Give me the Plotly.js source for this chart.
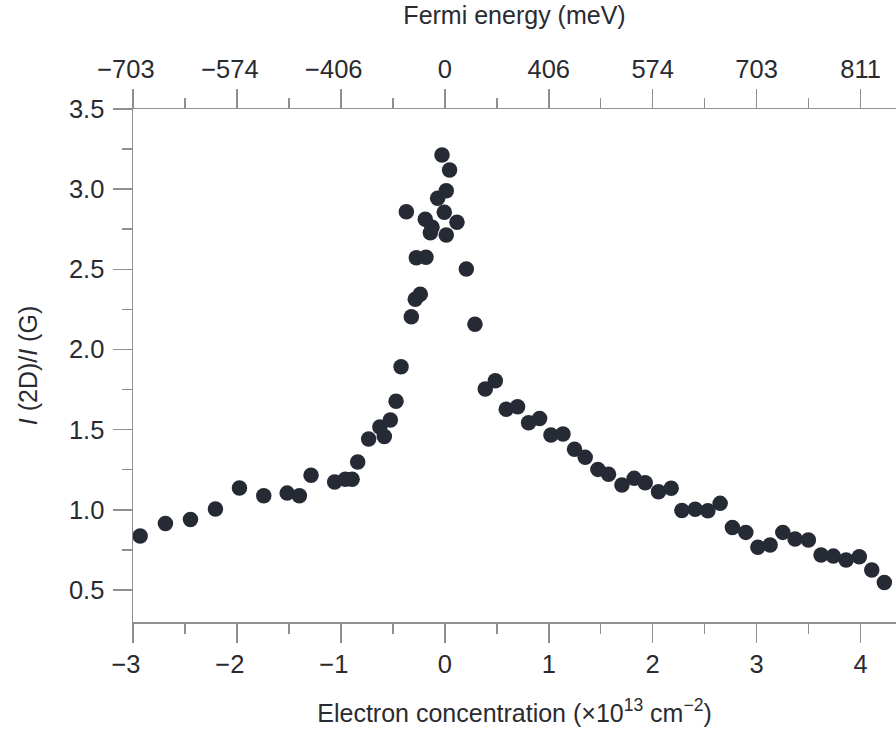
<!DOCTYPE html>
<html>
<head>
<meta charset="utf-8">
<script src="https://cdn.plot.ly/plotly-3.0.1.min.js"></script>
<style>html,body{margin:0;padding:0;background:#fff;}#chart{width:896px;height:735px;}</style>
</head>
<body>
<div id="chart"></div>
<script>
// Electron concentration (x10^13 cm^-2)
const concentration = [
  -2.931, -2.688, -2.447, -2.207, -1.976, -1.742, -1.517, -1.399, -1.287, -1.060,
  -0.957, -0.892, -0.838, -0.733, -0.625, -0.582, -0.524, -0.469, -0.421, -0.322,
  -0.284, -0.236, -0.274, -0.181, -0.370, -0.188, -0.123, -0.139, -0.069, -0.027,
  -0.005, 0.014, 0.014, 0.046, 0.117, 0.207, 0.290, 0.389, 0.486, 0.591,
  0.700, 0.806, 0.912, 1.021, 1.137, 1.248, 1.351, 1.473, 1.575, 1.704,
  1.822, 1.928, 2.056, 2.178, 2.281, 2.409, 2.531, 2.649, 2.767, 2.896,
  3.012, 3.130, 3.252, 3.370, 3.498, 3.620, 3.738, 3.861, 3.988, 4.108,
  4.229
];
// I(2D)/I(G)
const ratio = [
  0.836, 0.915, 0.940, 1.005, 1.136, 1.088, 1.104, 1.088, 1.215, 1.173,
  1.190, 1.190, 1.298, 1.441, 1.516, 1.457, 1.560, 1.677, 1.892, 2.204,
  2.313, 2.344, 2.572, 2.575, 2.859, 2.812, 2.762, 2.728, 2.943, 3.213,
  2.856, 2.990, 2.714, 3.119, 2.793, 2.502, 2.157, 1.753, 1.805, 1.627,
  1.643, 1.543, 1.570, 1.466, 1.473, 1.377, 1.327, 1.252, 1.221, 1.154,
  1.196, 1.169, 1.113, 1.134, 0.995, 1.003, 0.994, 1.040, 0.890, 0.859,
  0.766, 0.780, 0.859, 0.818, 0.811, 0.718, 0.711, 0.687, 0.707, 0.624,
  0.547
];
// Bottom axis ticks and labels; matching Fermi-energy labels on the top axis
const concTicks = [-3, -2, -1, 0, 1, 2, 3, 4];
const concLabels = ['\u22123', '\u22122', '\u22121', '0', '1', '2', '3', '4'];
const fermiLabels = ['\u2212703', '\u2212574', '\u2212406', '0', '406', '574', '703', '811'];
const yTicks = [0.5, 1.0, 1.5, 2.0, 2.5, 3.0, 3.5];

// negative labels: pad right with a figure space so the digits sit centred on the tick
const pad = s => s.charAt(0) === '\u2212' ? s + '\u2007' : s;

const axisColor = '#8e8e8e';
const textColor = '#2a2b30';
const fontFamily = 'Liberation Sans, Arial, sans-serif';
const xRange = [-3, 4.341];
const tickSize = 25.5;
const titleSize = 25;

const common = {
  showgrid: false, zeroline: false, showline: true,
  linecolor: axisColor, linewidth: 1.5,
  ticks: 'outside', ticklen: 19, tickwidth: 1.5, tickcolor: axisColor,
  tickfont: {family: fontFamily, size: tickSize, color: textColor},
  minor: {ticks: 'outside', ticklen: 10, tickwidth: 1.5, tickcolor: axisColor, showgrid: false}
};

const traces = [
  {
    x: concentration, y: ratio, type: 'scatter', mode: 'markers',
    marker: {size: 15.5, color: '#262a35', line: {width: 0}},
    hoverinfo: 'skip', showlegend: false
  },
  {
    x: concentration, y: ratio, xaxis: 'x2', type: 'scatter', mode: 'markers',
    marker: {size: 1, opacity: 0}, hoverinfo: 'skip', showlegend: false
  }
];

const layout = {
  width: 896, height: 735,
  margin: {l: 133, r: 0, t: 109, b: 113},
  paper_bgcolor: '#ffffff', plot_bgcolor: '#ffffff',
  showlegend: false,
  font: {family: fontFamily, color: textColor, size: titleSize},
  xaxis: Object.assign({}, common, {
    range: xRange, tickvals: concTicks, ticktext: concLabels.map(pad),
    minor: Object.assign({}, common.minor, {dtick: 0.5}),
    title: {text: 'Electron concentration (\u00d710<sup>13</sup> cm<sup>\u22122</sup>)',
            font: {family: fontFamily, size: titleSize, color: textColor}, standoff: 27}
  }),
  xaxis2: Object.assign({}, common, {
    overlaying: 'x', side: 'top', range: xRange,
    tickvals: concTicks, ticktext: fermiLabels.map(pad),
    minor: Object.assign({}, common.minor, {dtick: 0.5}),
    title: {text: 'Fermi energy (meV)',
            font: {family: fontFamily, size: titleSize, color: textColor}, standoff: 23}
  }),
  yaxis: Object.assign({}, common, {
    range: [0.30, 3.5], tickvals: yTicks, tickformat: '.1f',
    ticklabelstandoff: 3,
    minor: Object.assign({}, common.minor, {dtick: 0.25}),
    title: {text: '<i>I</i> (2D)/<i>I</i> (G)',
            font: {family: fontFamily, size: titleSize, color: textColor}, standoff: 24}
  })
};

Plotly.newPlot('chart', traces, layout, {staticPlot: true, displayModeBar: false});
</script>
</body>
</html>
